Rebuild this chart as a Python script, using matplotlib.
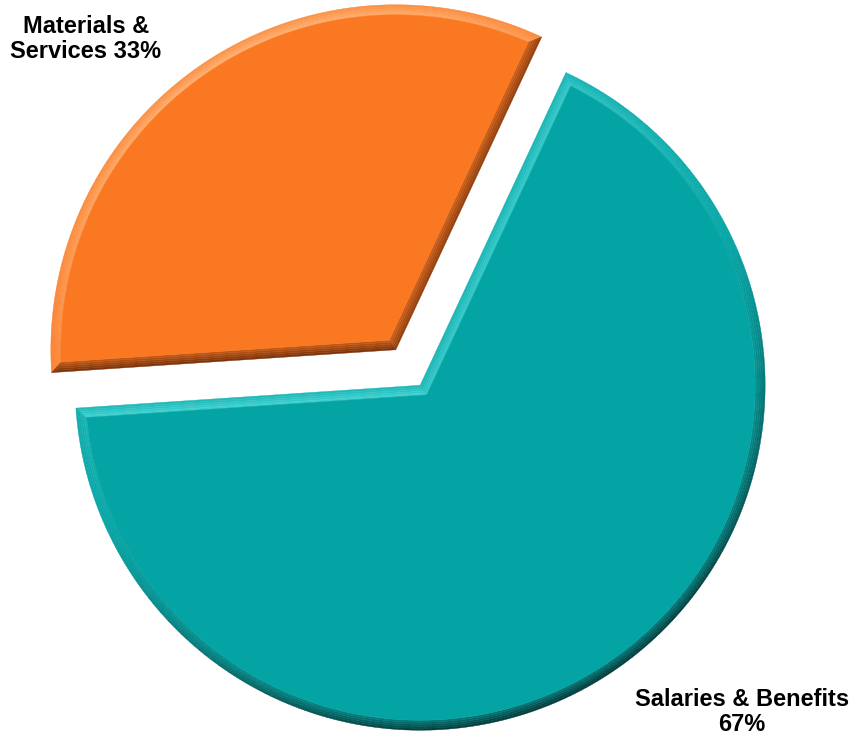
import numpy as np
import matplotlib.pyplot as plt
from matplotlib.collections import PolyCollection
from matplotlib.colors import to_rgb

labels = ['Salaries & Benefits\n67%', 'Materials &\nServices 33%']
shares = [67, 33]
face_colors = ['#05A4A4', '#FA7822']
light_colors = ['#45D6D6', '#FFB070']
dark_colors = ['#023E3E', '#7E340A']

plt.rcParams['font.family'] = ['Liberation Sans', 'DejaVu Sans']

fig = plt.figure(figsize=(8.55, 7.4), dpi=100)
ax = fig.add_axes([0, 0, 1, 1])

wedges, _ = ax.pie(shares, startangle=65, counterclock=False,
                   explode=[21.5, 21.5], radius=345, center=(408, 372.5),
                   colors=face_colors, frame=True)
ax.set_xlim(0, 855)
ax.set_ylim(0, 740)
ax.set_aspect('equal')
ax.axis('off')

LIGHT_DIR = 115.0
BEVEL = 10.0
N_ARC = 240


def shade(normal_deg, fc, lc, dc, depth):
    # depth: 0 at inner face edge, 1 at outer rim
    s = np.cos(np.radians(normal_deg - LIGHT_DIR))
    fc, lc, dc = map(np.array, (to_rgb(fc), to_rgb(lc), to_rgb(dc)))
    if s >= 0:
        k = s * (1 - 0.6 * depth)
        col = fc + (lc - fc) * k
    else:
        k = min(1.0, -s * (0.45 + 0.7 * depth))
        col = fc + (dc - fc) * k
    return col


def wedge_rings(cx, cy, r, t1, t2, inset):
    # apex and arc points of the wedge shrunk inward by `inset`
    if inset <= 0:
        a = np.linspace(t1, t2, N_ARC)
        return np.array([cx, cy]), np.c_[cx + r * np.cos(np.radians(a)),
                                         cy + r * np.sin(np.radians(a))]
    span = np.radians(t2 - t1)
    mid = np.radians((t1 + t2) / 2)
    d = inset / np.sin(span / 2)
    apex = np.array([cx + d * np.cos(mid), cy + d * np.sin(mid)])
    rr = r - inset
    dlt = np.degrees(np.arcsin(inset / rr))
    a = np.radians(np.linspace(t1 + dlt, t2 - dlt, N_ARC))
    return apex, np.c_[cx + rr * np.cos(a), cy + rr * np.sin(a)]


steps = np.linspace(0, BEVEL, 6)
for w, fc, lc, dc in zip(wedges, face_colors, light_colors, dark_colors):
    cx, cy = w.center
    r, t1, t2 = w.r, w.theta1, w.theta2
    w.set_visible(False)
    polys, cols = [], []
    arc_ang = np.linspace(t1, t2, N_ARC)
    for j in range(len(steps) - 1):
        depth = 1 - (steps[j] + steps[j + 1]) / (2 * BEVEL)
        a_out, p_out = wedge_rings(cx, cy, r, t1, t2, steps[j])
        a_in, p_in = wedge_rings(cx, cy, r, t1, t2, steps[j + 1])
        for i in range(N_ARC - 1):
            polys.append([p_out[i], p_out[i + 1], p_in[i + 1], p_in[i]])
            cols.append(shade(0.5 * (arc_ang[i] + arc_ang[i + 1]), fc, lc, dc, depth))
        # straight edges of the slice
        polys.append([a_out, p_out[0], p_in[0], a_in])
        cols.append(shade(t1 - 90, fc, lc, dc, depth))
        polys.append([a_out, p_out[-1], p_in[-1], a_in])
        cols.append(shade(t2 + 90, fc, lc, dc, depth))
    a_face, p_face = wedge_rings(cx, cy, r, t1, t2, BEVEL)
    polys.append(np.vstack([a_face, p_face]))
    cols.append(to_rgb(fc))
    ax.add_collection(PolyCollection(polys, facecolors=cols, edgecolors=cols,
                                     linewidths=0.3, zorder=3))

ax.text(742, 28, labels[0], ha='center', va='center', fontsize=17,
        fontweight='bold', linespacing=1.1)
ax.text(86, 701, labels[1], ha='center', va='center', fontsize=17,
        fontweight='bold', linespacing=1.1)

fig.savefig('out.png', dpi=100)
